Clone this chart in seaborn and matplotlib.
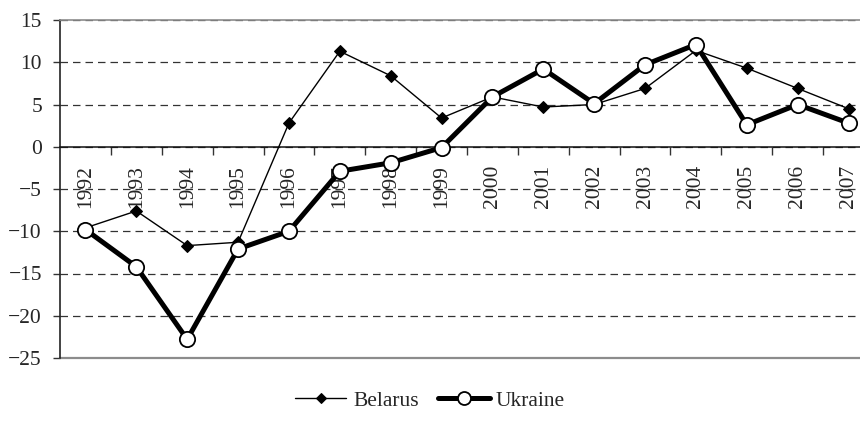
import numpy as np
import pandas as pd
import matplotlib
matplotlib.use("Agg")
import matplotlib.pyplot as plt
import seaborn as sns
from matplotlib.ticker import FixedLocator, NullFormatter

# data
years = ["1992", "1993", "1994", "1995", "1996", "1997", "1998", "1999",
         "2000", "2001", "2002", "2003", "2004", "2005", "2006", "2007"]
belarus = [-9.6, -7.6, -11.7, -11.3, 2.8, 11.3, 8.4, 3.4,
           5.9, 4.7, 5.0, 6.9, 11.4, 9.3, 6.9, 4.5]
ukraine = [-9.8, -14.2, -22.8, -12.1, -10.0, -2.9, -1.9, -0.1,
           5.9, 9.2, 5.1, 9.7, 12.1, 2.6, 5.0, 2.8]

df = pd.DataFrame({"pos": np.arange(len(years)), "Belarus": belarus, "Ukraine": ukraine})

sns.set_theme(style="white")
plt.rcParams["font.family"] = ["Liberation Serif", "DejaVu Serif"]

fig = plt.figure(figsize=(8.6, 4.25), dpi=100)
# plot runs slightly past the right edge, as in the reference
ax = fig.add_axes([60 / 860, 67 / 425, 814 / 860, 338 / 425])

# dashed grid
ax.set_yticks(np.arange(-25, 16, 5))
ax.yaxis.grid(True, linestyle=(0, (6, 4)), linewidth=0.9, color="#333333")
ax.set_axisbelow(True)

sns.lineplot(data=df, x="pos", y="Belarus", ax=ax, color="black", linewidth=1.0,
             marker="D", markersize=6, markeredgecolor="black", label="Belarus", zorder=3)
sns.lineplot(data=df, x="pos", y="Ukraine", ax=ax, color="black", linewidth=3.6,
             marker="o", markersize=11, markerfacecolor="white", markeredgecolor="black",
             markeredgewidth=1.3, label="Ukraine", zorder=4)

ax.set_xlim(-0.5, len(years) - 0.5)
ax.set_ylim(-25, 15)
ax.set_xlabel("")
ax.set_ylabel("")

# frame
ax.spines["right"].set_visible(False)
ax.spines["top"].set_color("#8c8c8c")
ax.spines["top"].set_linewidth(1.2)
ax.spines["left"].set_color("#222222")
ax.spines["left"].set_linewidth(1.2)
ax.spines["bottom"].set_position(("data", 0))
ax.spines["bottom"].set_color("#111111")
ax.spines["bottom"].set_linewidth(1.1)
ax.axhline(-25, color="#8c8c8c", linewidth=1.6, zorder=2.5, clip_on=False)

# ticks between categories, labels at category centres
ax.xaxis.set_major_locator(FixedLocator(np.arange(len(years)) + 0.5))
ax.xaxis.set_major_formatter(NullFormatter())
ax.xaxis.set_minor_locator(FixedLocator(np.arange(len(years))))
ax.set_xticks(np.arange(len(years)), labels=years, minor=True)
ax.tick_params(axis="x", which="major", bottom=True, direction="out", length=5.5,
               width=1, color="#333333")
ax.tick_params(axis="x", which="minor", bottom=True, length=0, pad=13,
               labelsize=15.5, labelrotation=90)
ax.tick_params(axis="y", left=True, direction="out", length=5, width=1,
               color="#333333", pad=8, labelsize=15.5)
for t in ax.get_xticklabels(minor=True):
    t.set_va("top")

ax.get_legend().remove()
handles, labels = ax.get_legend_handles_labels()
fig.legend(handles, labels, loc="lower center", bbox_to_anchor=(0.5, 0.0), ncol=2,
           frameon=False, fontsize=15.5, handlelength=2.4, handletextpad=0.3,
           columnspacing=0.9, markerscale=0.85, borderpad=0.15)

fig.savefig("out.png", dpi=100)
